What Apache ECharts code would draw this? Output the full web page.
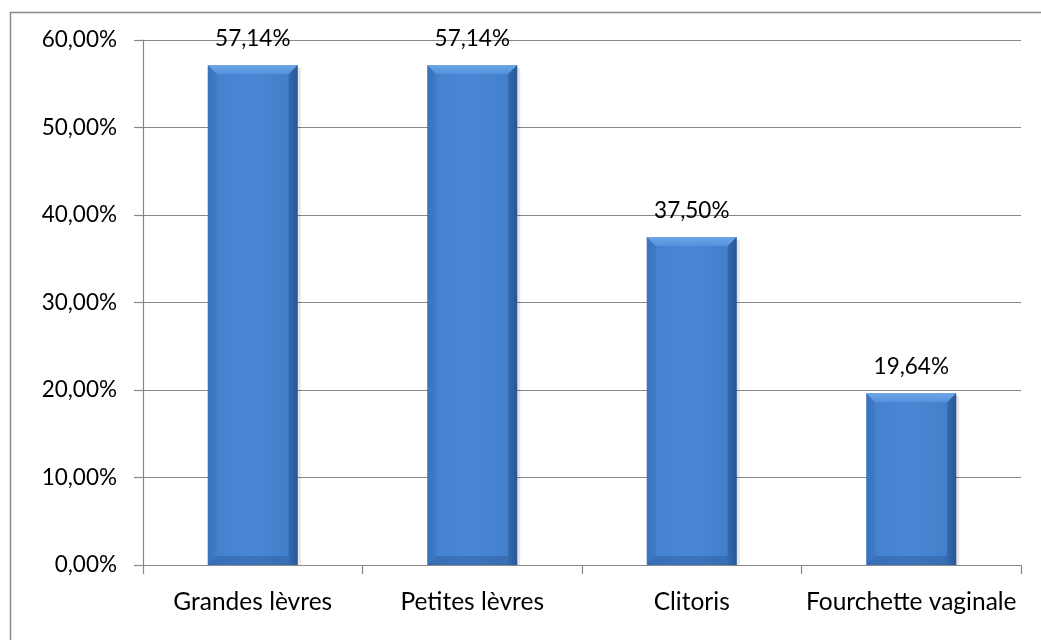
<!DOCTYPE html>
<html><head><meta charset="utf-8">
<script src="https://cdn.jsdelivr.net/npm/echarts@6/dist/echarts.min.js"></script>
<style>html,body{margin:0;padding:0;background:#fff}#c{width:1041px;height:640px}</style>
</head><body><div id="c"></div>
<script>
const categories = ['Grandes lèvres', 'Petites lèvres', 'Clitoris', 'Fourchette vaginale'];
const values = [57.14, 57.14, 37.50, 19.64];
const yTicks = { min: 0, max: 60, interval: 10 };

function fmt(v){ return v.toFixed(2).replace('.', ',') + '%'; }

const chart = echarts.init(document.getElementById('c'), null, {renderer:'canvas'});
const FONT = 'Lato';
chart.setOption({
  animation: false,
  backgroundColor: '#fff',
  graphic: [{
    type: 'rect', left: 8, top: 10, z: -1,
    shape: { width: 1100, height: 700 },
    style: { fill: 'none', stroke: '#8a8a8a', lineWidth: 1.5 }
  }],
  grid: { left: 143, right: 20, top: 40, bottom: 75 },
  xAxis: {
    type: 'category', data: categories,
    axisLine: { lineStyle: { color: '#888', width: 1.2 } },
    axisTick: { show: true, length: 9, lineStyle: { color: '#888', width: 1.2 } },
    axisLabel: { color: '#000', fontFamily: FONT, fontSize: 24.5, margin: 25, interval: 0 }
  },
  yAxis: {
    type: 'value', min: yTicks.min, max: yTicks.max, interval: yTicks.interval,
    axisLine: { show: true, lineStyle: { color: '#888', width: 1.2 } },
    axisTick: { show: true, length: 9, lineStyle: { color: '#888', width: 1.2 } },
    splitLine: { lineStyle: { color: '#888', width: 1.2 } },
    axisLabel: { color: '#000', fontFamily: FONT, fontSize: 22.5, margin: 26, formatter: v => fmt(v) }
  },
  series: [{
    type: 'custom',
    data: values.map((v, i) => [i, v]),
    encode: { x: 0, y: 1 },
    renderItem: function(params, api){
      const i = api.value(0), v = api.value(1);
      const top = api.coord([i, v]);
      const base = api.coord([i, 0]);
      const w = api.size([1, 0])[0] * 0.41;
      const x0 = top[0] - w/2, x1 = top[0] + w/2, y0 = top[1], y1 = base[1];
      const b = 9;
      return {
        type: 'group',
        children: [
          { type: 'rect', shape: { x: x0 + 3, y: y0 + 3, width: w, height: y1 - y0 - 3 },
            style: { fill: 'rgba(0,0,0,0.10)' } },
          { type: 'rect', shape: { x: x0, y: y0, width: w, height: y1 - y0 },
            style: { fill: new echarts.graphic.LinearGradient(0,0,1,0,[
              {offset:0, color:'#3f78c3'},{offset:0.1, color:'#4482cf'},
              {offset:0.5, color:'#4986d3'},{offset:0.88, color:'#4280cc'},{offset:1, color:'#2f62a6'}]) } },
          { type: 'polygon', shape: { points: [[x0,y0],[x1,y0],[x1-b,y0+b],[x0+b,y0+b]] },
            style: { fill: new echarts.graphic.LinearGradient(0,0,0,1,[
              {offset:0, color:'#6ea6e6'},{offset:1, color:'#5392dc'}]) } },
          { type: 'polygon', shape: { points: [[x0,y0],[x0+b,y0+b],[x0+b,y1-b],[x0,y1]] },
            style: { fill: 'rgba(40,90,160,0.18)' } },
          { type: 'polygon', shape: { points: [[x1,y0],[x1-b,y0+b],[x1-b,y1-b],[x1,y1]] },
            style: { fill: 'rgba(20,50,100,0.25)' } },
          { type: 'polygon', shape: { points: [[x0,y1],[x0+b,y1-b],[x1-b,y1-b],[x1,y1]] },
            style: { fill: 'rgba(20,50,100,0.22)' } },
          { type: 'text', x: top[0], y: y0 - 15,
            style: { text: fmt(v), fill: '#000', font: '22.5px ' + FONT, align: 'center', verticalAlign: 'bottom' } }
        ]
      };
    }
  }]
});
</script></body></html>
